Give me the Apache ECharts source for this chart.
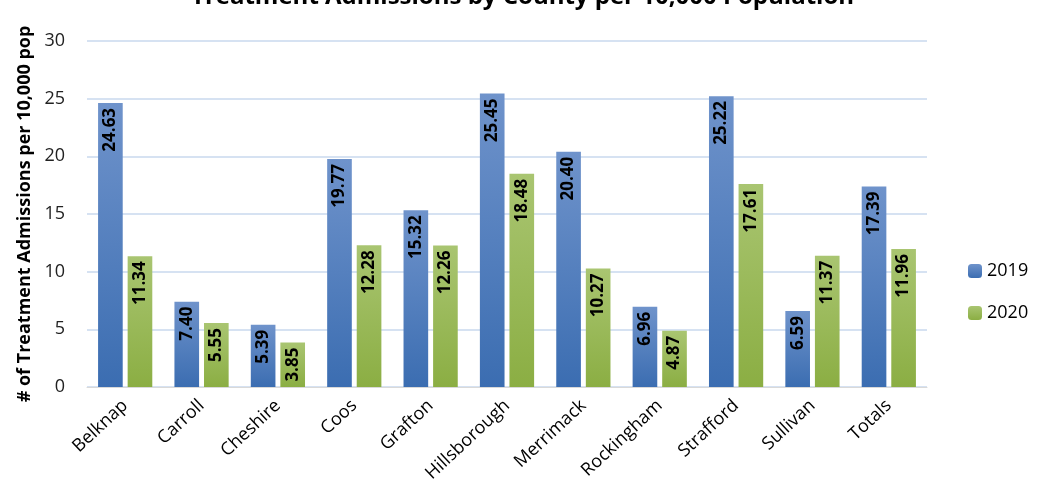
<!DOCTYPE html>
<html><head><meta charset="utf-8">
<script src="https://cdn.jsdelivr.net/npm/echarts@6/dist/echarts.min.js"></script>
<style>html,body{margin:0;padding:0;background:#fff}#c{width:1045px;height:496px}</style>
</head><body><div id="c"></div>
<script>
const categories = ['Belknap','Carroll','Cheshire','Coos','Grafton','Hillsborough','Merrimack','Rockingham','Strafford','Sullivan','Totals'];
const values2019 = [24.63,7.40,5.39,19.77,15.32,25.45,20.40,6.96,25.22,6.59,17.39];
const values2020 = [11.34,5.55,3.85,12.28,12.26,18.48,10.27,4.87,17.61,11.37,11.96];
const seriesNames = ['2019','2020'];
const yTicks = [0,5,10,15,20,25,30];

const FONT = '"Open Sans", "Liberation Sans", sans-serif';
const chart = echarts.init(document.getElementById('c'), null, {renderer:'canvas'});
function grad(top, bottom){
  return new echarts.graphic.LinearGradient(0,0,0,1,[{offset:0,color:top},{offset:1,color:bottom}]);
}
const labelCfg = {
  show:true, position:'insideTop', rotate:90, align:'right', verticalAlign:'middle',
  distance:5, fontFamily:FONT, fontWeight:'bold', fontSize:17, color:'#000',
  formatter: p => p.value.toFixed(2)
};
chart.setOption({
  animation:false,
  title:{text:'Treatment Admissions by County per 10,000 Population', left:'center', top:-20,
    textStyle:{fontFamily:FONT, fontWeight:'bold', fontSize:24, color:'#000'}},
  legend:{orient:'vertical', left:963, top:257, itemWidth:14, itemHeight:14, itemGap:24,
    data:seriesNames,
    textStyle:{fontFamily:FONT, fontSize:18, color:'#000'}},
  grid:{left:87, right:118, top:41, bottom:109},
  xAxis:{type:'category', data:categories,
    axisLine:{lineStyle:{color:'#d9d9d9'}}, axisTick:{show:false},
    axisLabel:{rotate:43, fontFamily:FONT, fontSize:18, color:'#000', margin:16, interval:0}},
  yAxis:{type:'value', min:yTicks[0], max:yTicks[yTicks.length-1], interval:5,
    name:'# of Treatment Admissions per 10,000 pop', nameLocation:'middle', nameGap:52,
    nameTextStyle:{fontFamily:FONT, fontWeight:'bold', fontSize:18, color:'#000'},
    axisLine:{show:false}, axisTick:{show:false},
    axisLabel:{fontFamily:FONT, fontSize:18, color:'#222', margin:22},
    splitLine:{lineStyle:{color:'#d6e2f2', width:2}}},
  series:[
    {name:seriesNames[0], type:'bar', data:values2019, barGap:'20%', barCategoryGap:'29%',
      itemStyle:{color:grad('#6f93cb','#3b6db1')}, label:labelCfg},
    {name:seriesNames[1], type:'bar', data:values2020,
      itemStyle:{color:grad('#a9c571','#8bae43')}, label:labelCfg}
  ]
});
</script></body></html>
